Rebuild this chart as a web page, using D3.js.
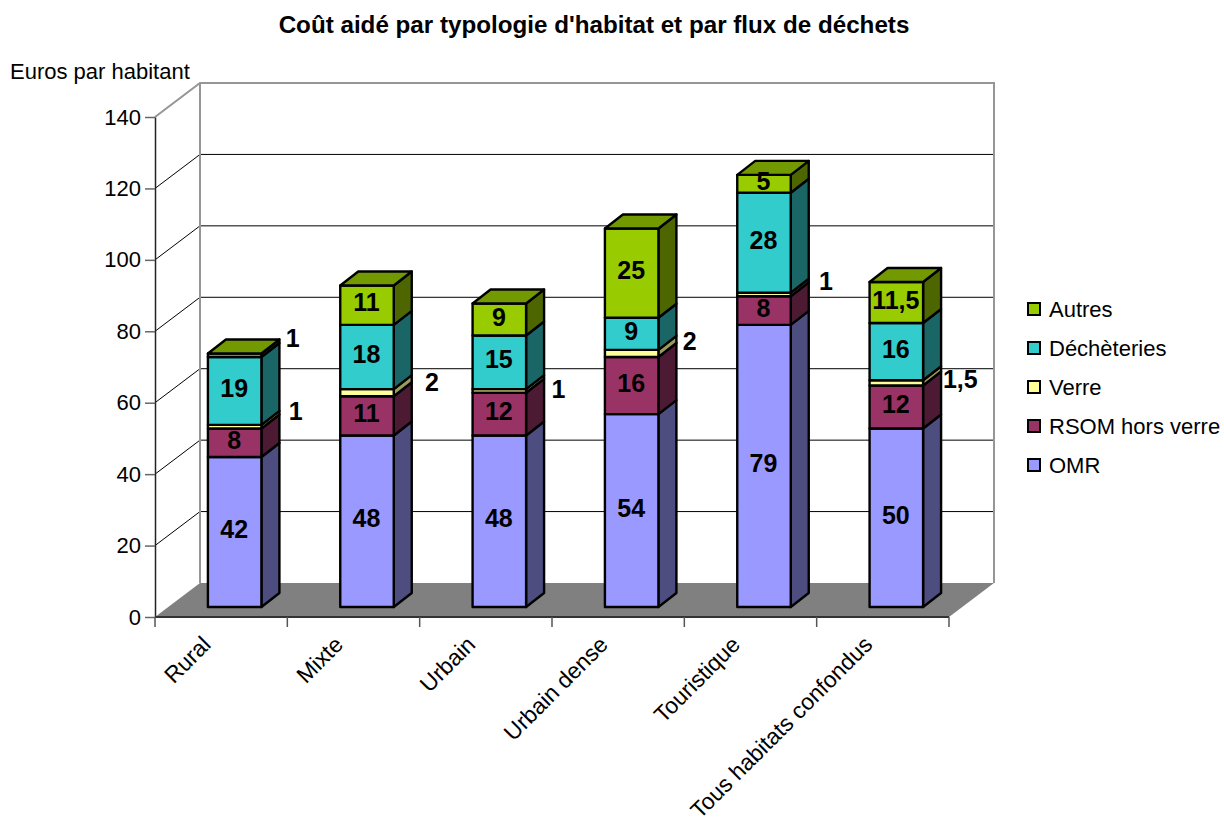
<!DOCTYPE html>
<html>
<head>
<meta charset="utf-8">
<script src="https://cdn.jsdelivr.net/npm/d3@7"></script>
<style>
  html, body { margin: 0; padding: 0; background: #fff; overflow: hidden; }
  text { font-family: "Liberation Sans", Arial, sans-serif; fill: #000; }
</style>
</head>
<body>
<svg id="drawing_region"></svg>
<script>
const categories = ['Rural', 'Mixte', 'Urbain', 'Urbain dense', 'Touristique', 'Tous habitats confondus'];
const seriesNames = ['OMR', 'RSOM hors verre', 'Verre', 'Déchèteries', 'Autres'];
const omr = [42, 48, 48, 54, 79, 50];
const rsom = [8, 11, 12, 16, 8, 12];
const verre = [1, 2, 1, 2, 1, 1.5];
const decheteries = [19, 18, 15, 9, 28, 16];
const autres = [1, 11, 9, 25, 5, 11.5];
const yTicks = [0, 20, 40, 60, 80, 100, 120, 140];

const colors = ['#9999ff', '#993366', '#ffff99', '#33cccc', '#99cc00'];
const sideColors = ['#4d4d80', '#4d1a33', '#9a9a5c', '#1a6666', '#4d6600'];
const topColor = '#739900';

const width = 1224, height = 818;
const margin = {top: 117, right: 275, bottom: 201, left: 155};

// wall depth and where the bars sit inside it
const wall = {dx: 45, dy: -34};
const bar = {offX: 13.5, offY: -10, dx: 18, dy: -14, width: 53.5};

// labels too thin for their segment sit beside the bar, [dx from bar centre, dy from segment middle]
const outside = {
    '0-4': [58, -16],
    '0-2': [61, -15],
    '1-2': [65, -10],
    '2-2': [59, -1],
    '3-2': [58, -11],
    '4-2': [62, -13],
    '5-2': [64, -3]
};

const table = categories.map((c, i) => ({
    category: c,
    OMR: omr[i],
    'RSOM hors verre': rsom[i],
    Verre: verre[i],
    'Déchèteries': decheteries[i],
    Autres: autres[i]
}));
const stacked = d3.stack().keys(seriesNames)(table);

const svg = d3.select('#drawing_region')
    .attr('width', width)
    .attr('height', height)
    .style('display', 'block');

const xscale = d3.scaleBand()
    .domain(categories)
    .range([margin.left, width - margin.right]);
const yscale = d3.scaleLinear()
    .domain([0, 140])
    .range([height - margin.bottom, margin.top]);

const x0 = xscale.range()[0], x1 = xscale.range()[1];
const y0 = yscale(0), yTop = yscale(140);

// Floor and walls
svg.append('path')
    .attr('d', `M${x0},${y0}L${x0 + wall.dx},${y0 + wall.dy}L${x1 + wall.dx},${y0 + wall.dy}L${x1},${y0}Z`)
    .attr('fill', '#808080');

const grid = svg.append('g');
yTicks.slice(1, -1).forEach(t => {
    const y = yscale(t);
    grid.append('path')
        .attr('d', `M${x0},${y}L${x0 + wall.dx},${y + wall.dy}L${x1 + wall.dx},${y + wall.dy}`)
        .attr('fill', 'none')
        .attr('stroke', '#000')
        .attr('stroke-width', 1);
});
svg.append('path')
    .attr('d', `M${x0},${yTop}L${x0 + wall.dx},${yTop + wall.dy}L${x1 + wall.dx},${yTop + wall.dy}L${x1 + wall.dx},${y0 + wall.dy}M${x0 + wall.dx},${yTop + wall.dy}L${x0 + wall.dx},${y0 + wall.dy}`)
    .attr('fill', 'none')
    .attr('stroke', '#969696')
    .attr('stroke-width', 2);

// Axes
const yaxis = d3.axisLeft(yscale)
    .tickValues(yTicks)
    .tickSize(10)
    .tickSizeOuter(0)
    .tickPadding(4);
const yaxis_group = svg.append('g')
    .attr('transform', `translate(${x0}, 0)`)
    .call(yaxis);
yaxis_group.selectAll('text')
    .style('font-size', '22px')
    .style('font-family', '"Liberation Sans", Arial, sans-serif');
yaxis_group.selectAll('line').attr('stroke', '#666').attr('stroke-width', 1.5);
yaxis_group.select('.domain').attr('stroke', '#222').attr('stroke-width', 1.5);

const xedges = categories.map(c => xscale(c)).concat([x1]);
const xaxis_group = svg.append('g');
xaxis_group.append('line')
    .attr('x1', x0).attr('x2', x1)
    .attr('y1', y0).attr('y2', y0)
    .attr('stroke', '#333').attr('stroke-width', 2);
xaxis_group.selectAll('line.tick')
    .data(xedges)
    .join('line')
    .attr('class', 'tick')
    .attr('x1', d => d).attr('x2', d => d)
    .attr('y1', y0).attr('y2', y0 + 10)
    .attr('stroke', '#555').attr('stroke-width', 1.5);
xaxis_group.selectAll('text')
    .data(categories)
    .join('text')
    .attr('transform', d => `translate(${xscale(d) + xscale.bandwidth() / 2 - 9}, ${y0 + 29}) rotate(-45)`)
    .attr('text-anchor', 'end')
    .style('font-size', '22.8px')
    .text(d => d);

// Bars
const barLeft = c => xscale(c) + xscale.bandwidth() / 2 + bar.offX - bar.width / 2;
const by = v => yscale(v) + bar.offY;

const bars = svg.append('g')
    .attr('stroke', '#000')
    .attr('stroke-width', 2.4)
    .attr('stroke-linejoin', 'round');

categories.forEach((c, ci) => {
    const l = barLeft(c), r = l + bar.width;
    stacked.forEach((s, si) => {
        const top = by(s[ci][1]), bot = by(s[ci][0]);
        bars.append('path')
            .attr('d', `M${r},${bot}L${r + bar.dx},${bot + bar.dy}L${r + bar.dx},${top + bar.dy}L${r},${top}Z`)
            .attr('fill', sideColors[si]);
        bars.append('rect')
            .attr('x', l).attr('y', top)
            .attr('width', bar.width).attr('height', bot - top)
            .attr('fill', colors[si]);
    });
    const t = by(stacked[stacked.length - 1][ci][1]);
    bars.append('path')
        .attr('d', `M${l},${t}L${l + bar.dx},${t + bar.dy}L${r + bar.dx},${t + bar.dy}L${r},${t}Z`)
        .attr('fill', topColor);
});

// Value labels
const labels = svg.append('g')
    .style('font-size', '25px')
    .style('font-weight', 'bold')
    .attr('text-anchor', 'middle');

stacked.forEach((s, si) => {
    s.forEach((d, ci) => {
        const c = categories[ci];
        const nudge = outside[`${ci}-${si}`] || [0, 0];
        labels.append('text')
            .attr('x', barLeft(c) + bar.width / 2 + nudge[0] - (nudge[0] ? 0 : 0.5))
            .attr('y', by((d[0] + d[1]) / 2) + nudge[1] + (nudge[0] ? 8 : 6))
            .text(String(d[1] - d[0]).replace('.', ','));
    });
});

// Title and axis caption
svg.append('text')
    .attr('x', 594).attr('y', 33)
    .attr('text-anchor', 'middle')
    .style('font-size', '24.2px')
    .style('font-weight', 'bold')
    .text("Coût aidé par typologie d'habitat et par flux de déchets");
svg.append('text')
    .attr('x', 10).attr('y', 79)
    .style('font-size', '22px')
    .text('Euros par habitant');

// Legend
const legend = svg.append('g')
    .selectAll('g')
    .data(seriesNames.slice().reverse())
    .join('g')
    .attr('transform', (d, i) => `translate(1028, ${303 + i * 39})`);
legend.append('rect')
    .attr('width', 12).attr('height', 12)
    .attr('fill', d => colors[seriesNames.indexOf(d)])
    .attr('stroke', '#000')
    .attr('stroke-width', 2);
legend.append('text')
    .attr('x', 21).attr('y', 14)
    .style('font-size', '22px')
    .text(d => d);
</script>
</body>
</html>
